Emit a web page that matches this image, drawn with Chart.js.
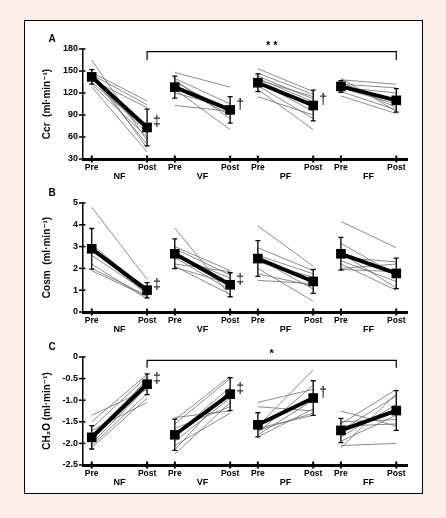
<!DOCTYPE html>
<html><head><meta charset="utf-8">
<script src="https://cdn.jsdelivr.net/npm/chart.js@4.4.1/dist/chart.umd.min.js"></script>
<style>
html,body{margin:0;padding:0;background:#fdefe5;width:446px;height:518px;overflow:hidden;}
#frame{position:absolute;left:24px;top:20px;width:397px;height:472px;background:#fff;border:1px solid #000;}
canvas{position:absolute;left:25px;}
</style></head><body>
<div id="frame"></div>
<canvas id="cA" width="396" height="161" style="top:24px"></canvas>
<canvas id="cB" width="396" height="160" style="top:178px"></canvas>
<canvas id="cC" width="396" height="159" style="top:332px"></canvas>
<script>
// ---- shared categories ----
const xPos = [0, 2, 3, 5, 6, 8, 9, 11];
const xTickLabels = ['Pre','Post','Pre','Post','Pre','Post','Pre','Post'];
const groups = ['NF','VF','PF','FF'];

// ---- Panel A: Ccr (ml·min-1) ----
const ccrMean = [142, 73, 128, 97, 134, 103, 129, 110];
const ccrErr  = [10, 25, 15, 18, 12, 21, 8, 16];
const ccrMarks = ['', '‡', '', '†', '', '†', '', ''];
const ccrNF = [[165,55],[150,45],[148,109],[145,104],[142,50],[140,65],[138,100],[135,70],[132,60],[128,40]];
const ccrVF = [[148,128],[140,105],[138,85],[135,95],[130,90],[125,70],[120,100],[103,95]];
const ccrPF = [[153,122],[147,118],[143,112],[140,108],[138,115],[135,95],[130,85],[125,70],[115,90]];
const ccrFF = [[140,95],[138,132],[135,100],[132,127],[130,110],[127,105],[122,97],[116,92],[128,120]];
const ccrTicks = [30, 60, 90, 120, 150, 180];

// ---- Panel B: Cosm (ml·min-1) ----
const cosmMean = [2.9, 1.0, 2.67, 1.25, 2.45, 1.4, 2.67, 1.77];
const cosmErr  = [0.93, 0.35, 0.68, 0.55, 0.82, 0.55, 0.75, 0.7];
const cosmMarks = ['', '‡', '', '‡', '', '', '', ''];
const cosmNF = [[4.8,1.5],[3.1,1.0],[2.9,0.8],[2.6,0.9],[2.2,0.6],[2.0,0.75],[1.9,0.7]];
const cosmVF = [[3.85,0.75],[3.0,1.9],[2.9,1.7],[2.6,1.55],[2.5,1.0],[2.2,1.85],[2.1,0.8],[2.05,1.3]];
const cosmPF = [[3.95,2.1],[2.95,1.9],[2.6,1.75],[2.45,1.05],[2.3,1.6],[2.0,0.5],[1.75,1.2],[1.45,1.3]];
const cosmFF = [[4.15,2.95],[3.15,1.7],[2.7,1.1],[2.5,2.3],[2.35,1.4],[2.2,1.0],[2.0,2.2],[1.95,1.85]];
const cosmTicks = [0, 1, 2, 3, 4, 5];

// ---- Panel C: CH2O (ml·min-1) ----
const ch2oMean = [-1.86, -0.63, -1.8, -0.86, -1.57, -0.95, -1.7, -1.24];
const ch2oErr  = [0.27, 0.24, 0.36, 0.38, 0.28, 0.4, 0.28, 0.46];
const ch2oMarks = ['', '‡', '', '‡', '', '†', '', ''];
const ch2oNF = [[-1.35,-0.75],[-1.5,-0.4],[-1.65,-0.45],[-1.8,-0.55],[-1.9,-0.6],[-1.95,-0.5],[-2.0,-0.7],[-2.05,-0.85],[-2.1,-0.95],[-1.7,-1.05]];
const ch2oVF = [[-1.4,-1.25],[-1.45,-0.45],[-1.55,-0.5],[-1.65,-1.15],[-1.8,-0.7],[-1.95,-0.95],[-2.05,-1.3],[-2.15,-0.75],[-2.25,-1.05]];
const ch2oPF = [[-1.05,-0.75],[-1.15,-1.25],[-1.6,-0.3],[-1.65,-1.35],[-1.75,-0.65],[-1.8,-1.0],[-1.85,-1.2],[-1.7,-1.3]];
const ch2oFF = [[-1.25,-1.6],[-1.5,-1.45],[-1.55,-0.75],[-1.6,-1.55],[-1.7,-0.9],[-1.85,-1.1],[-2.05,-2.0],[-2.1,-0.85],[-1.95,-1.35]];
const ch2oTicks = [-2.5, -2.0, -1.5, -1.0, -0.5, 0];

const FONT = '"Liberation Sans", Arial, "DejaVu Sans", sans-serif';

const extras = {
  id: 'extras',
  afterDraw(chart, args, o) {
    const ctx = chart.ctx, xs = chart.scales.x, ys = chart.scales.y, ca = chart.chartArea;
    ctx.save();
    ctx.strokeStyle = '#000'; ctx.fillStyle = '#000';
    ctx.lineWidth = 1.5;
    ys.ticks.forEach(t => {
      const y = ys.getPixelForValue(t.value);
      ctx.beginPath(); ctx.moveTo(ca.left - 4, y); ctx.lineTo(ca.left + 2.5, y); ctx.stroke();
    });
    ctx.lineWidth = 2;
    xPos.forEach(v => {
      const x = xs.getPixelForValue(v);
      ctx.beginPath(); ctx.moveTo(x, ca.bottom - 3.5); ctx.lineTo(x, ca.bottom + 3.5); ctx.stroke();
    });
    ctx.lineWidth = 1.3;
    o.means.forEach((m, i) => {
      const x = xs.getPixelForValue(xPos[i]);
      const y1 = ys.getPixelForValue(m + o.errs[i]);
      const y2 = ys.getPixelForValue(m - o.errs[i]);
      ctx.beginPath();
      ctx.moveTo(x, y1); ctx.lineTo(x, y2);
      ctx.moveTo(x - 2.5, y1); ctx.lineTo(x + 2.5, y1);
      ctx.moveTo(x - 2.5, y2); ctx.lineTo(x + 2.5, y2);
      ctx.stroke();
    });
    ctx.font = '14px ' + FONT; ctx.textAlign = 'left'; ctx.textBaseline = 'middle';
    o.marks.forEach((s, i) => {
      if (!s) return;
      ctx.fillText(s, xs.getPixelForValue(xPos[i]) + 6, ys.getPixelForValue(o.means[i]) - 5);
    });
    ctx.font = 'bold 9px ' + FONT; ctx.textAlign = 'center'; ctx.textBaseline = 'top';
    groups.forEach((g, i) => {
      ctx.fillText(g, xs.getPixelForValue((xPos[2*i] + xPos[2*i+1]) / 2), ca.bottom + 13);
    });
    ctx.font = 'bold 10px ' + FONT; ctx.textAlign = 'center'; ctx.textBaseline = 'middle';
    ctx.fillText(o.letter, 27, ca.top - 10);
    if (o.bracket) {
      const b = o.bracket;
      const x1 = xs.getPixelForValue(b.from), x2 = xs.getPixelForValue(b.to);
      const yt = ys.getPixelForValue(b.y), yd = ys.getPixelForValue(b.drop);
      ctx.lineWidth = 1.2;
      ctx.beginPath();
      ctx.moveTo(x1, yd); ctx.lineTo(x1, yt); ctx.lineTo(x2, yt); ctx.lineTo(x2, yd);
      ctx.stroke();
      ctx.font = 'bold 11px ' + FONT; ctx.textAlign = 'center'; ctx.textBaseline = 'middle';
      ctx.fillText(b.text, (x1 + x2) / 2, yt - 6);
    }
    ctx.restore();
  }
};

function makePanel(id, title, groupsData, means, errs, marks, yMin, yMax, yTicks, fmt, letter, bracket) {
  const datasets = [];
  groupsData.forEach((subj, g) => {
    subj.forEach(p => {
      datasets.push({
        data: [{x: xPos[2*g], y: p[0]}, {x: xPos[2*g+1], y: p[1]}],
        borderColor: '#6e6e6e', borderWidth: 0.8, pointRadius: 0, order: 2, clip: false
      });
    });
  });
  groupsData.forEach((subj, g) => {
    datasets.push({
      data: [{x: xPos[2*g], y: means[2*g]}, {x: xPos[2*g+1], y: means[2*g+1]}],
      borderColor: '#000', borderWidth: 4, pointStyle: 'rect', pointRadius: 6.8,
      pointBackgroundColor: '#000', pointBorderColor: '#000', pointBorderWidth: 0, order: 1, clip: false
    });
  });
  new Chart(document.getElementById(id), {
    type: 'line',
    data: { datasets },
    plugins: [extras],
    options: {
      responsive: false, animation: false, events: [],
      layout: { padding: { top: 25, right: 14, left: 0, bottom: 0 } },
      plugins: {
        legend: { display: false }, tooltip: { enabled: false },
        extras: { means, errs, marks, letter, bracket }
      },
      scales: {
        x: {
          type: 'linear', min: -0.315, max: 11.387,
          afterBuildTicks: s => { s.ticks = xPos.map(v => ({ value: v })); },
          afterFit: s => { s.height = 26; },
          grid: { display: false, drawTicks: false },
          border: { display: true, color: '#000', width: 3 },
          ticks: { autoSkip: false, maxRotation: 0, padding: 4, color: '#000',
                   font: { family: FONT, size: 8.5, weight: 'bold' },
                   callback: (v, i) => xTickLabels[i] }
        },
        y: {
          min: yMin, max: yMax,
          afterBuildTicks: s => { s.ticks = yTicks.map(v => ({ value: v })); },
          afterFit: s => { s.width = 58; },
          grid: { display: false, drawTicks: false },
          border: { display: true, color: '#000', width: 1.5 },
          ticks: { padding: 5, color: '#000', font: { family: FONT, size: 9, weight: 'bold' },
                   callback: fmt },
          title: { display: true, text: title, color: '#000',
                   font: { family: FONT, size: 10, weight: 'bold' }, padding: { top: 16, bottom: 0 } }
        }
      }
    }
  });
}

makePanel('cA', 'Ccr  (ml·min⁻¹)', [ccrNF, ccrVF, ccrPF, ccrFF], ccrMean, ccrErr, ccrMarks,
  30, 180, ccrTicks, v => String(v), 'A', { from: 2, to: 11, y: 176.3, drop: 165, text: '* *' });
makePanel('cB', 'Cosm  (ml·min⁻¹)', [cosmNF, cosmVF, cosmPF, cosmFF], cosmMean, cosmErr, cosmMarks,
  0, 5, cosmTicks, v => String(v), 'B', null);
makePanel('cC', 'CH₂O (ml·min⁻¹)', [ch2oNF, ch2oVF, ch2oPF, ch2oFF], ch2oMean, ch2oErr, ch2oMarks,
  -2.5, 0, ch2oTicks, v => (v === 0 ? '0' : v.toFixed(1)), 'C', { from: 2, to: 11, y: -0.08, drop: -0.25, text: '*' });
</script>
</body></html>
